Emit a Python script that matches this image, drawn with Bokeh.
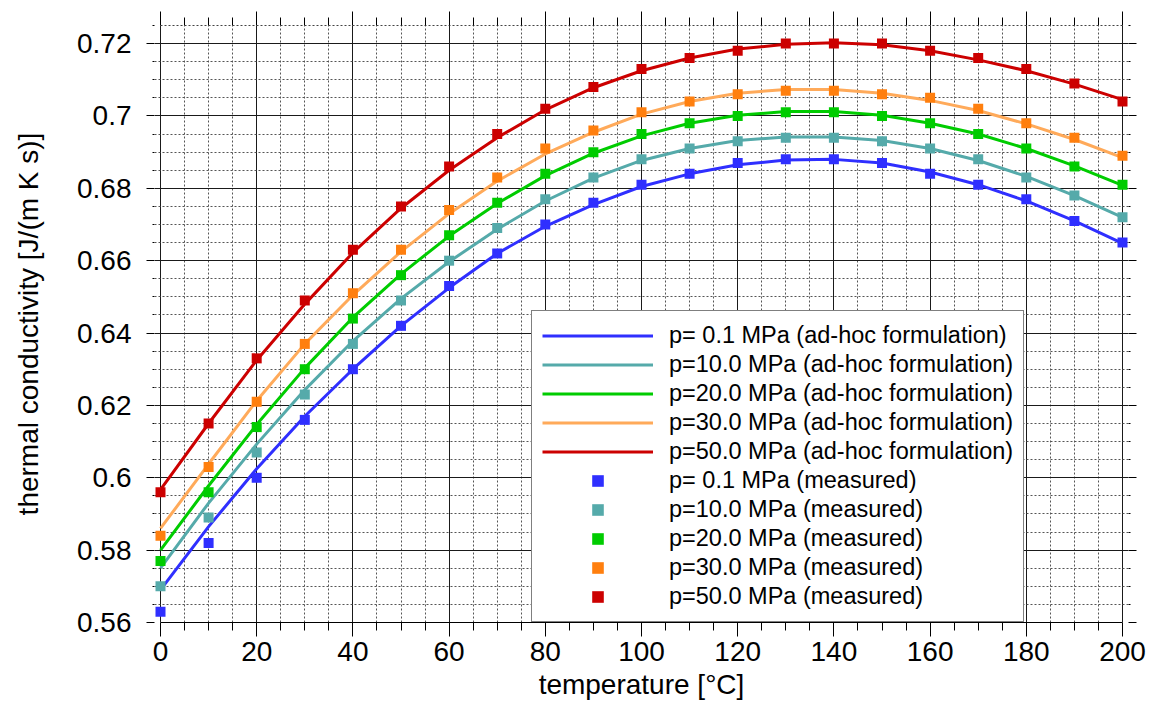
from bokeh.plotting import figure
from bokeh.models import (LinearAxis, FixedTicker, Range1d, Legend, LegendItem,
                          CustomJSTickFormatter)
from bokeh.embed import file_html
from bokeh.resources import INLINE

# ---------------- data ----------------
temperature = [0, 10, 20, 30, 40, 50, 60, 70, 80, 90, 100,
               110, 120, 130, 140, 150, 160, 170, 180, 190, 200]

# ad-hoc formulation curves
fit_p01 = [0.569, 0.5865, 0.6025, 0.617, 0.630, 0.642, 0.6525, 0.662, 0.6695, 0.6755, 0.6805,
           0.684, 0.6865, 0.6878, 0.688, 0.687, 0.6845, 0.681, 0.6765, 0.671, 0.6648]
fit_p10 = [0.575, 0.593, 0.6093, 0.6243, 0.6378, 0.6495, 0.6597, 0.6687, 0.6765, 0.6828, 0.6877,
           0.691, 0.6932, 0.6942, 0.6942, 0.6932, 0.691, 0.6877, 0.6833, 0.678, 0.672]
fit_p20 = [0.580, 0.5978, 0.6147, 0.6303, 0.6443, 0.6563, 0.6668, 0.6758, 0.6835, 0.6897, 0.6945,
           0.698, 0.7002, 0.7012, 0.7012, 0.7002, 0.698, 0.695, 0.691, 0.6862, 0.6808]
fit_p30 = [0.586, 0.6038, 0.6213, 0.637, 0.6505, 0.6625, 0.673, 0.682, 0.6895, 0.6955, 0.7005,
           0.704, 0.7063, 0.7073, 0.7073, 0.7063, 0.7043, 0.7015, 0.6978, 0.6935, 0.6885]
fit_p50 = [0.5967, 0.615, 0.6325, 0.648, 0.6622, 0.6745, 0.685, 0.694, 0.7017, 0.7078, 0.7125,
           0.716, 0.7185, 0.7198, 0.7202, 0.7197, 0.718, 0.7155, 0.7125, 0.7088, 0.7045]

# measured values
meas_p01 = [0.563, 0.582, 0.600, 0.616, 0.630, 0.642, 0.653, 0.662, 0.670, 0.676, 0.681,
            0.684, 0.687, 0.688, 0.688, 0.687, 0.684, 0.681, 0.677, 0.671, 0.665]
meas_p10 = [0.570, 0.589, 0.607, 0.623, 0.637, 0.649, 0.660, 0.669, 0.677, 0.683, 0.688,
            0.691, 0.693, 0.694, 0.694, 0.693, 0.691, 0.688, 0.683, 0.678, 0.672]
meas_p20 = [0.577, 0.596, 0.614, 0.630, 0.644, 0.656, 0.667, 0.676, 0.684, 0.690, 0.695,
            0.698, 0.700, 0.701, 0.701, 0.700, 0.698, 0.695, 0.691, 0.686, 0.681]
meas_p30 = [0.584, 0.603, 0.621, 0.637, 0.651, 0.663, 0.674, 0.683, 0.691, 0.696, 0.701,
            0.704, 0.706, 0.707, 0.707, 0.706, 0.705, 0.702, 0.698, 0.694, 0.689]
meas_p50 = [0.596, 0.615, 0.633, 0.649, 0.663, 0.675, 0.686, 0.695, 0.702, 0.708, 0.713,
            0.716, 0.718, 0.720, 0.720, 0.720, 0.718, 0.716, 0.713, 0.709, 0.704]

fit_labels = ["p= 0.1 MPa (ad-hoc formulation)", "p=10.0 MPa (ad-hoc formulation)",
              "p=20.0 MPa (ad-hoc formulation)", "p=30.0 MPa (ad-hoc formulation)",
              "p=50.0 MPa (ad-hoc formulation)"]
meas_labels = ["p= 0.1 MPa (measured)", "p=10.0 MPa (measured)", "p=20.0 MPa (measured)",
               "p=30.0 MPa (measured)", "p=50.0 MPa (measured)"]

x_ticks = [0, 20, 40, 60, 80, 100, 120, 140, 160, 180, 200]
x_tick_labels = ["0", "20", "40", "60", "80", "100", "120", "140", "160", "180", "200"]
y_ticks = [0.56, 0.58, 0.60, 0.62, 0.64, 0.66, 0.68, 0.70, 0.72]
y_tick_labels = ["0.56", "0.58", "0.6", "0.62", "0.64", "0.66", "0.68", "0.7", "0.72"]

x_label = "temperature [°C]"
y_label = "thermal conductivity [J/(m K s)]"

# ---------------- styles ----------------
line_colors = ["#2f2fff", "#55aaaa", "#00cc00", "#ffaa5a", "#cc0000"]
marker_colors = ["#2f2fff", "#55aaaa", "#00cc00", "#ff7f0e", "#cc0000"]
FONT = "Liberation Sans"

x_minor = [v for v in range(0, 201, 5) if v % 20 != 0]
y_minor = [round(0.56 + i * 0.005, 3) for i in range(34) if i % 4 != 0]

# frame spans 154..1128 px so that the 0 / 200 lines sit at 160 / 1122 px and
# the edge markers are not clipped
X_PAD = 6 * 200.0 / 962.0

p = figure(width=1152, height=704, output_backend="svg", toolbar_location=None,
           x_range=Range1d(-X_PAD, 200 + X_PAD), y_range=Range1d(0.56, 0.725),
           min_border_left=154, min_border_right=24, min_border_top=25, min_border_bottom=82)
p.outline_line_color = None
p.background_fill_color = "white"
p.border_fill_color = "white"

xt = FixedTicker(ticks=x_ticks, minor_ticks=x_minor)
yt = FixedTicker(ticks=y_ticks, minor_ticks=y_minor)

JS = "const i = tv.findIndex(t => Math.abs(t - tick) < 1e-9); return i >= 0 ? tl[i] : '';"
fmt_x = CustomJSTickFormatter(args=dict(tv=x_ticks, tl=x_tick_labels), code=JS)
fmt_y = CustomJSTickFormatter(args=dict(tv=y_ticks, tl=y_tick_labels), code=JS)
fmt_none_x = CustomJSTickFormatter(code="return '';")
fmt_none_y = CustomJSTickFormatter(code="return '';")

def style_axis(ax, major_out, minor_out):
    ax.axis_line_color = "black"
    ax.axis_line_width = 1
    ax.major_tick_line_color = "black"
    ax.minor_tick_line_color = "black"
    ax.major_tick_out = major_out
    ax.major_tick_in = 0
    ax.minor_tick_out = minor_out
    ax.minor_tick_in = 0
    ax.major_label_text_font = FONT
    ax.major_label_text_color = "black"
    ax.axis_label_text_font = FONT
    ax.axis_label_text_font_style = "normal"
    ax.axis_label_text_color = "black"

xa = p.xaxis[0]
xa.ticker = xt
xa.formatter = fmt_x
xa.bounds = (0, 200)
style_axis(xa, 14, 8)
xa.major_label_text_font_size = "28px"
xa.major_label_standoff = 5
xa.axis_label = x_label
xa.axis_label_text_font_size = "28px"
xa.axis_label_standoff = 5

ya = p.yaxis[0]
ya.ticker = yt
ya.formatter = fmt_y
style_axis(ya, 8, 2)
ya.axis_line_color = None
ya.major_label_text_font_size = "28px"
ya.major_label_standoff = 15
ya.axis_label = y_label
ya.axis_label_text_font_size = "28px"
ya.axis_label_standoff = 30

top = LinearAxis(ticker=xt, formatter=fmt_none_x, bounds=(0, 200))
style_axis(top, 14, 8)
top.major_label_text_font_size = "1px"
top.major_label_standoff = 0
top.axis_line_dash = "2 2"
top.axis_line_color = "#444444"
p.add_layout(top, "above")

right = LinearAxis(ticker=yt, formatter=fmt_none_y)
style_axis(right, 8, 2)
right.axis_line_color = None
right.major_label_text_font_size = "1px"
right.major_label_standoff = 0
p.add_layout(right, "right")

p.xgrid.ticker = xt
p.ygrid.ticker = yt
for g in (p.xgrid, p.ygrid):
    g.grid_line_color = "#1a1a1a"
    g.grid_line_width = 1
    g.minor_grid_line_color = "#555555"
    g.minor_grid_line_width = 1
    g.minor_grid_line_dash = "2 2"

fits = [fit_p01, fit_p10, fit_p20, fit_p30, fit_p50]
meas = [meas_p01, meas_p10, meas_p20, meas_p30, meas_p50]

line_items = []
for vals, col, lab in zip(fits, line_colors, fit_labels):
    r = p.line(temperature, vals, line_color=col, line_width=3)
    line_items.append(LegendItem(label=lab, renderers=[r]))

marker_items = []
for vals, col, lab in zip(meas, marker_colors, meas_labels):
    r = p.scatter(temperature, vals, marker="square", size=10, fill_color=col, line_color=None)
    marker_items.append(LegendItem(label=lab, renderers=[r]))

legend = Legend(items=line_items + marker_items, location=(377, 0))
legend.label_text_font = FONT
legend.label_text_font_size = "23.5px"
legend.label_text_color = "black"
legend.glyph_width = 111
legend.glyph_height = 29
legend.label_height = 29
legend.label_standoff = 16
legend.spacing = 0
legend.padding = 10
legend.margin = 0
legend.border_line_color = "black"
legend.border_line_width = 1
legend.background_fill_color = "white"
legend.background_fill_alpha = 1
p.add_layout(legend)

open("out.html", "w").write(file_html(p, INLINE))
